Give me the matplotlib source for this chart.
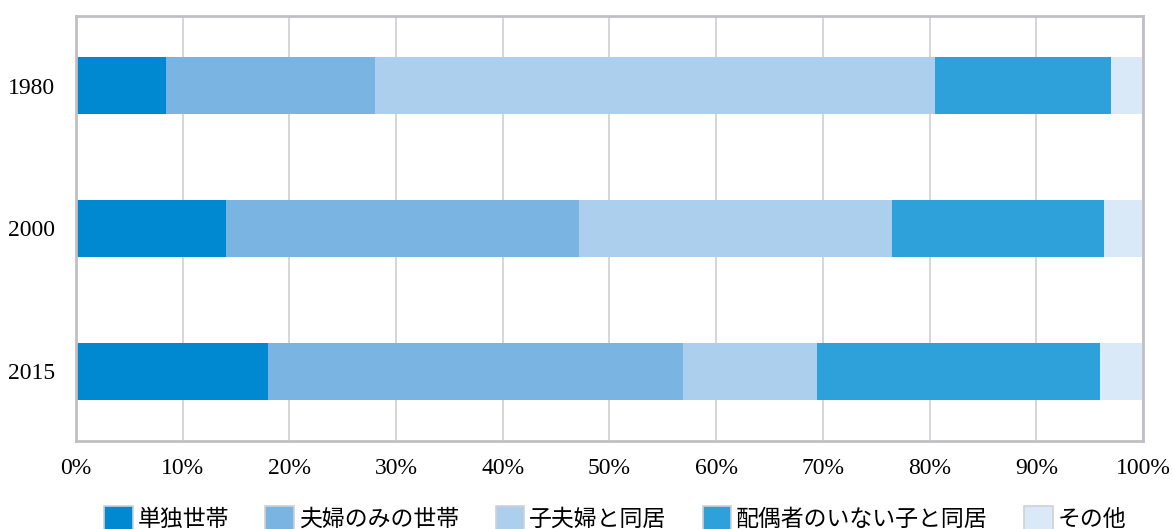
import matplotlib.pyplot as plt
from matplotlib.patches import Patch

plt.rcParams['font.family'] = ['Liberation Serif', 'Noto Sans CJK JP', 'DejaVu Sans']

years = ["2015", "2000", "1980"]
series_names = ["単独世帯", "夫婦のみの世帯", "子夫婦と同居", "配偶者のいない子と同居", "その他"]
# percent shares, ordered as years (2015, 2000, 1980)
single = [18.0, 14.1, 8.4]
couple = [38.9, 33.0, 19.6]
with_married_child = [12.5, 29.4, 52.5]
with_unmarried_child = [26.6, 19.8, 16.5]
other = [4.0, 3.7, 3.0]
colors = ["#0088d0", "#79b4e3", "#adcfee", "#2ea1da", "#dae9f7"]


def main():
    fig = plt.figure(figsize=(11.72, 5.29), dpi=100)
    ax = fig.add_axes([0.0648, 0.1664, 0.9105, 0.8036])

    data = [single, couple, with_married_child, with_unmarried_child, other]
    ypos = list(range(len(years)))
    left = [0.0] * len(years)
    for vals, col, name in zip(data, colors, series_names):
        ax.barh(ypos, vals, left=left, height=0.4, color=col, label=name,
                zorder=2, linewidth=0)
        left = [a + b for a, b in zip(left, vals)]

    ax.set_xlim(0, 100)
    ax.set_ylim(-0.49, 2.49)
    ax.set_xticks(range(0, 101, 10))
    ax.set_xticklabels([f"{v}%" for v in range(0, 101, 10)], fontsize=17)
    ax.set_yticks(ypos)
    ax.set_yticklabels(years, fontsize=17)
    ax.tick_params(length=0)
    ax.tick_params(axis='x', pad=12)
    ax.tick_params(axis='y', pad=15)
    ax.grid(axis='x', color='#d3d3d3', linewidth=1.3, zorder=0)
    for s in ax.spines.values():
        s.set_color('#c0c0c4')
        s.set_linewidth(2)

    handles = [Patch(facecolor=c, edgecolor='#d0d0d4', linewidth=1.2) for c in colors]
    fig.legend(handles, series_names, loc='center', ncol=5, frameon=False,
               bbox_to_anchor=(0.5248, 0.02), handlelength=1.25,
               handleheight=1.25, handletextpad=0.2, columnspacing=1.6,
               borderaxespad=0, borderpad=0,
               prop={'family': ['Noto Sans CJK JP'], 'size': 16.5})

    fig.savefig("out.png", dpi=100)


if __name__ == "__main__":
    main()
